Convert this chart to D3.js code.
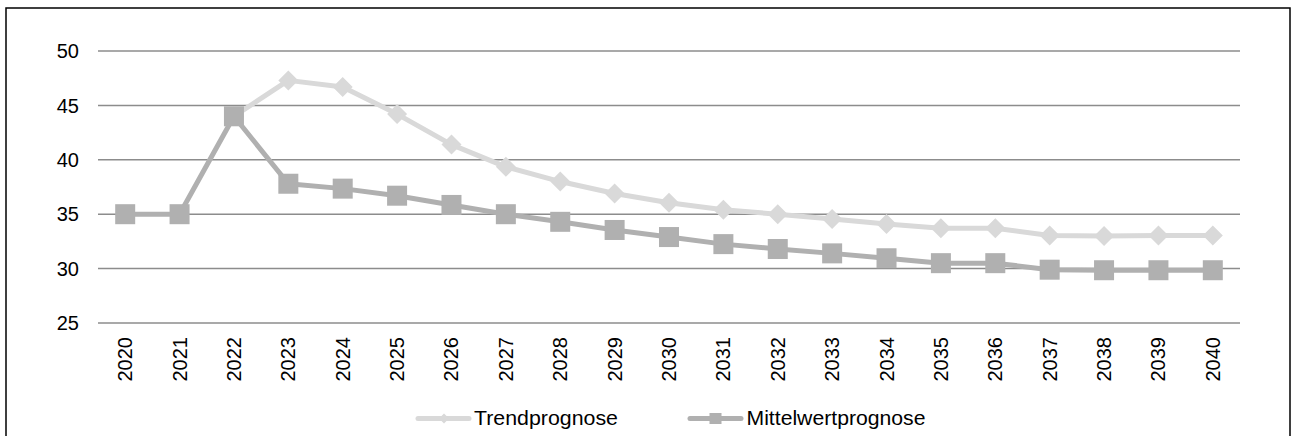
<!DOCTYPE html>
<html><head><meta charset="utf-8">
<script src="https://cdn.jsdelivr.net/npm/d3@7"></script>
<style>body{margin:0;background:#fff;} svg{display:block;font-family:Arial,"Liberation Sans",sans-serif;}</style>
</head><body><svg id="c" width="1292" height="436"></svg>
<script>
const years = ["2020","2021","2022","2023","2024","2025","2026","2027","2028","2029","2030","2031","2032","2033","2034","2035","2036","2037","2038","2039","2040"];
const trendprognose = [null,null,44.0,47.3,46.7,44.2,41.4,39.35,38.0,36.9,36.05,35.4,35.0,34.55,34.1,33.7,33.7,33.05,33.0,33.05,33.05];
const mittelwertprognose = [35.0,35.0,44.0,37.8,37.35,36.7,35.85,35.0,34.3,33.55,32.9,32.25,31.8,31.4,30.95,30.5,30.5,29.9,29.85,29.85,29.85];
const yTicks = [25,30,35,40,45,50];
const seriesNames = ["Trendprognose","Mittelwertprognose"];

const svg = d3.select("#c");
const pL = 98, pR = 1240, pT = 51, pB = 323;
const x = d3.scaleBand().domain(years).range([pL,pR]);
const y = d3.scaleLinear().domain([25,50]).range([pB,pT]);

svg.append("rect").attr("x",6).attr("y",8).attr("width",1284).attr("height",440)
  .attr("fill","none").attr("stroke","#000").attr("stroke-width",1.5);

svg.append("g").selectAll("line").data(yTicks).join("line")
  .attr("x1",pL).attr("x2",pR).attr("y1",d=>y(d)).attr("y2",d=>y(d))
  .attr("stroke","#8c8c8c").attr("stroke-width",1.5);

svg.append("g").selectAll("text").data(yTicks).join("text")
  .attr("x",79).attr("y",d=>y(d)).attr("dy","0.36em").attr("text-anchor","end")
  .attr("font-size",20).attr("fill","#000").text(d=>d);

svg.append("g").selectAll("text").data(years).join("text")
  .attr("transform",d=>`translate(${x(d)+x.bandwidth()/2+7},337) rotate(-90)`)
  .attr("text-anchor","end").attr("font-size",20).attr("fill","#000").text(d=>d);

const cx = d=>x(d)+x.bandwidth()/2;
const line = d3.line().defined(d=>d[1]!=null).x(d=>cx(d[0])).y(d=>y(d[1]));

const tData = years.map((yr,i)=>[yr,trendprognose[i]]);
const mData = years.map((yr,i)=>[yr,mittelwertprognose[i]]);
const cT = "#d9d9d9", cM = "#b0b0b0";

svg.append("path").datum(tData).attr("d",line).attr("fill","none").attr("stroke",cT).attr("stroke-width",5).attr("stroke-linejoin","round");
svg.append("g").selectAll("path").data(tData.filter(d=>d[1]!=null)).join("path")
  .attr("d",d3.symbol().type(d3.symbolSquare).size(200))
  .attr("transform",d=>`translate(${cx(d[0])},${y(d[1])}) rotate(45)`).attr("fill",cT);

svg.append("path").datum(mData).attr("d",line).attr("fill","none").attr("stroke",cM).attr("stroke-width",5).attr("stroke-linejoin","round");
svg.append("g").selectAll("rect").data(mData).join("rect")
  .attr("x",d=>cx(d[0])-10).attr("y",d=>y(d[1])-10).attr("width",20).attr("height",20).attr("fill",cM);

const lg = svg.append("g");
lg.append("line").attr("x1",418).attr("x2",469).attr("y1",418.5).attr("y2",418.5).attr("stroke",cT).attr("stroke-width",5).attr("stroke-linecap","round");
lg.append("path").attr("d",d3.symbol().type(d3.symbolSquare).size(50)).attr("transform","translate(444,418.5) rotate(45)").attr("fill",cT);
lg.append("text").attr("x",474).attr("y",425).attr("font-size",20.5).attr("textLength",144).attr("lengthAdjust","spacingAndGlyphs").text(seriesNames[0]);
lg.append("line").attr("x1",690).attr("x2",741).attr("y1",418.5).attr("y2",418.5).attr("stroke",cM).attr("stroke-width",5).attr("stroke-linecap","round");
lg.append("rect").attr("x",709.5).attr("y",413).attr("width",12).attr("height",11).attr("fill",cM);
lg.append("text").attr("x",746.5).attr("y",425).attr("font-size",20.5).attr("textLength",179).attr("lengthAdjust","spacingAndGlyphs").text(seriesNames[1]);
</script></body></html>
